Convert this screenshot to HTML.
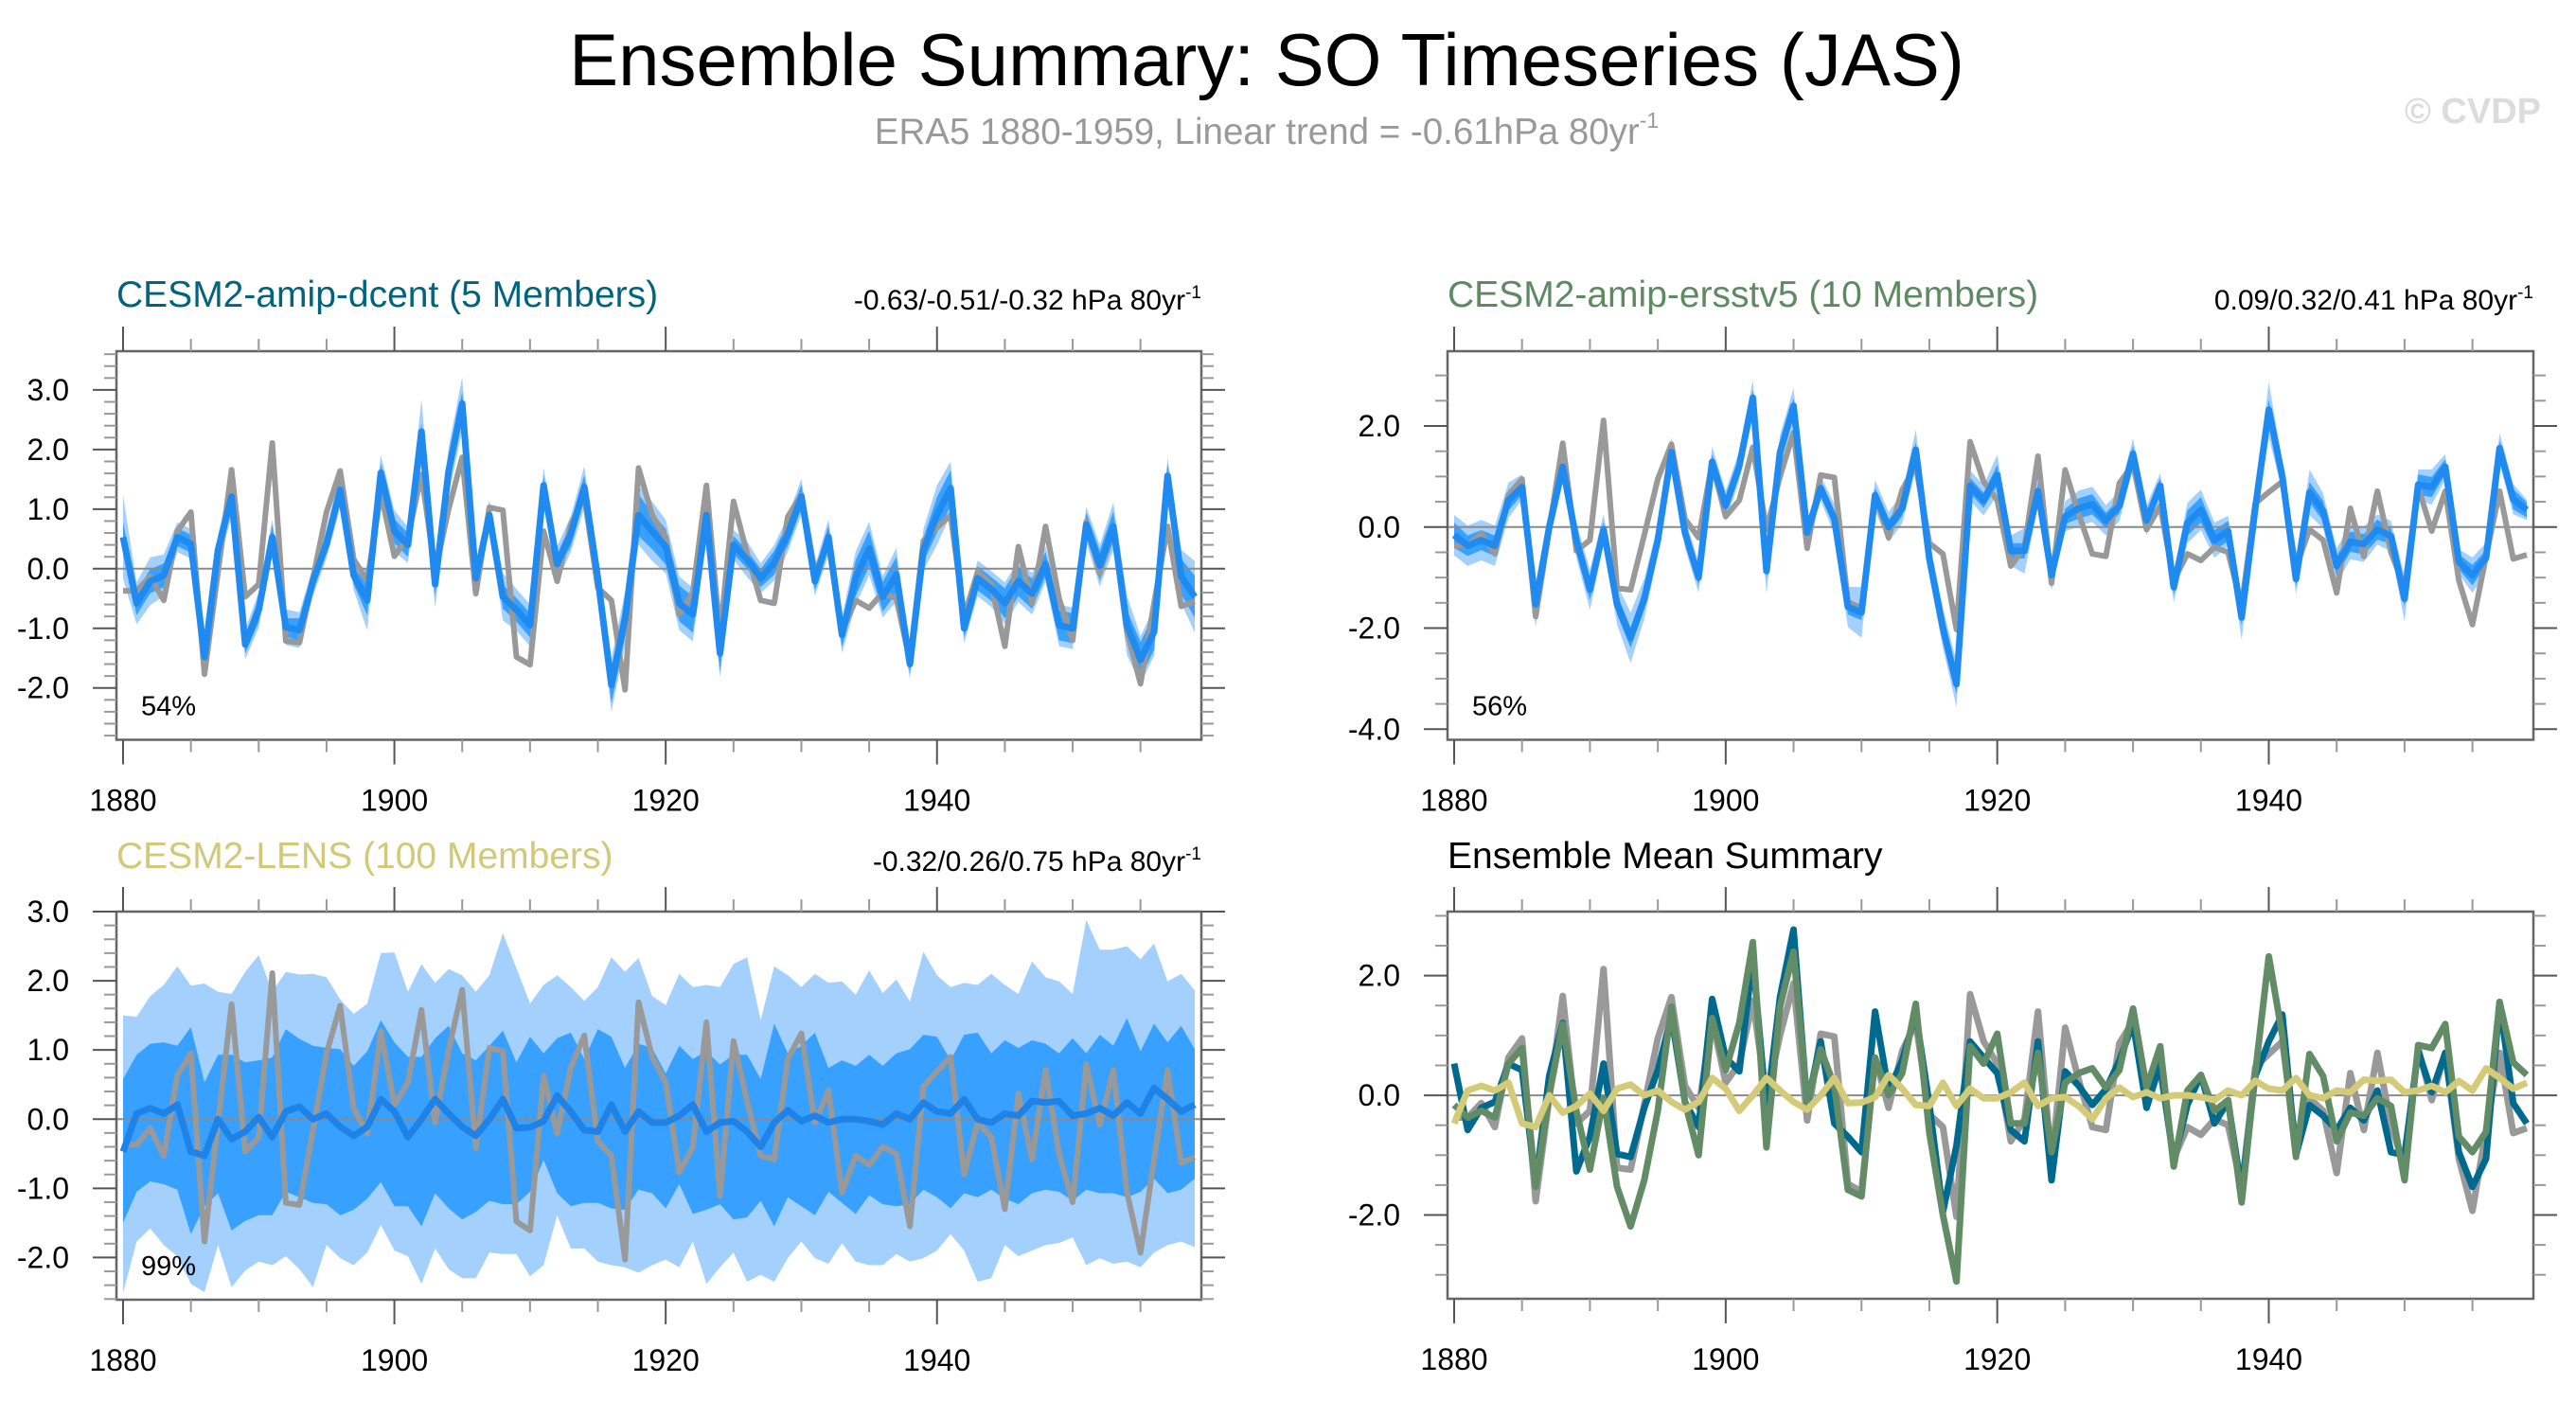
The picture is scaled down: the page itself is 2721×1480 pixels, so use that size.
<!DOCTYPE html>
<html><head><meta charset="utf-8"><title>Ensemble Summary: SO Timeseries (JAS)</title>
<style>html,body{margin:0;padding:0;background:#fff}svg{display:block;font-family:"Liberation Sans",Arial,sans-serif}</style>
</head><body>
<svg id="chart" width="2721" height="1480" viewBox="0 0 2721 1480" xmlns="http://www.w3.org/2000/svg">
<text x="1338" y="90" font-size="78" text-anchor="middle" fill="#000">Ensemble Summary: SO Timeseries (JAS)</text>
<text x="1338" y="152" font-size="38.5" text-anchor="middle" fill="#999">ERA5 1880-1959, Linear trend = -0.61hPa 80yr<tspan font-size="23" dy="-17">-1</tspan></text>
<text x="2684" y="130" font-size="38" font-weight="bold" text-anchor="end" fill="#dcdcdc">© CVDP</text>
</svg>
<script>
const years = [];
for (let y = 1880; y <= 1959; y++) years.push(y);
const era5 = [-0.37,-0.37,-0.13,-0.53,0.63,0.95,-1.77,-0.05,1.66,-0.47,
-0.26,2.11,-1.21,-1.24,-0.16,0.95,1.64,0.16,-0.21,1.27,
0.21,0.53,1.58,-0.05,1.0,1.87,-0.42,1.03,0.98,-1.48,
-1.61,0.63,-0.21,0.74,1.21,-0.32,-0.53,-2.03,1.69,0.90,
0.53,-0.77,-0.4,1.40,-1.11,1.13,0.26,-0.53,-0.58,0.87,
1.24,-0.05,0.42,-1.06,-0.53,-0.66,-0.40,-0.50,-1.55,0.47,
0.69,0.90,-0.8,-0.05,-0.26,-1.3,0.37,-0.58,0.71,-0.5,
-1.2,0.79,-0.08,0.71,-1.06,-1.93,-0.58,0.71,-0.63,-0.55];
const dcentMean = [0.53,-0.58,-0.21,-0.11,0.53,0.42,-1.48,0.32,1.21,-1.27,
-0.69,0.53,-0.98,-1.03,-0.21,0.42,1.32,-0.11,-0.53,1.61,
0.63,0.40,2.3,-0.26,1.64,2.77,-0.16,0.9,-0.47,-0.69,
-0.95,1.40,0.08,0.58,1.37,-0.16,-1.95,-0.84,0.9,0.63,
0.37,-0.58,-0.77,0.9,-1.42,0.4,0.16,-0.16,0.1,0.58,
1.21,-0.21,0.53,-1.11,-0.16,0.34,-0.47,-0.1,-1.6,0.32,
0.9,1.35,-1.0,-0.16,-0.34,-0.58,-0.21,-0.42,0.08,-0.95,
-1.0,0.74,0.05,0.71,-0.95,-1.53,-1.06,1.56,-0.13,-0.47];
const dcentDarkHW = [0.25,0.2,0.2,0.2,0.15,0.15,0.15,0.15,0.2,0.15,
0.2,0.2,0.15,0.2,0.15,0.15,0.2,0.15,0.25,0.15,
0.2,0.2,0.15,0.2,0.2,0.2,0.15,0.15,0.2,0.2,
0.2,0.15,0.15,0.2,0.2,0.15,0.3,0.3,0.35,0.3,
0.3,0.3,0.3,0.3,0.3,0.15,0.15,0.15,0.2,0.2,
0.2,0.15,0.2,0.2,0.3,0.3,0.25,0.3,0.15,0.2,
0.3,0.3,0.15,0.2,0.2,0.25,0.25,0.25,0.2,0.25,
0.25,0.2,0.25,0.25,0.25,0.3,0.3,0.2,0.3,0.35];
const dcentLightHW = [0.7,0.35,0.4,0.35,0.25,0.25,0.3,0.25,0.35,0.25,
0.3,0.3,0.3,0.3,0.25,0.25,0.3,0.25,0.5,0.3,
0.35,0.3,0.55,0.4,0.4,0.45,0.25,0.25,0.4,0.35,
0.35,0.3,0.3,0.3,0.35,0.25,0.45,0.45,0.5,0.5,
0.45,0.45,0.45,0.45,0.4,0.25,0.3,0.25,0.3,0.3,
0.3,0.25,0.3,0.3,0.45,0.45,0.35,0.45,0.25,0.35,
0.5,0.45,0.25,0.3,0.3,0.35,0.35,0.35,0.3,0.35,
0.35,0.3,0.35,0.4,0.5,0.4,0.4,0.3,0.45,0.6];
const ersstMean = [-0.16,-0.37,-0.26,-0.37,0.53,0.79,-1.53,0,1.19,-0.26,
-1.24,-0.05,-1.53,-2.19,-1.42,-0.26,1.48,-0.11,-1.0,1.29,
0.42,1.21,2.56,-0.87,1.48,2.40,-0.11,0.77,0.16,-1.58,
-1.69,0.63,0,0.37,1.53,-0.63,-2.0,-3.11,0.82,0.53,
1.03,-0.47,-0.47,0.71,-0.95,0.21,0.37,0.45,0.13,0.42,
1.45,0.13,0.82,-1.19,0.08,0.34,-0.26,-0.08,-1.79,0.37,
2.32,1.0,-1.03,0.69,0.32,-0.77,-0.29,-0.34,-0.05,-0.18,
-1.42,0.84,0.79,1.19,-0.69,-0.95,-0.61,1.56,0.55,0.34];
const ersstDarkHW = [0.25,0.2,0.2,0.2,0.2,0.15,0.15,0.15,0.15,0.2,
0.2,0.15,0.2,0.2,0.2,0.15,0.15,0.15,0.15,0.15,
0.15,0.15,0.15,0.15,0.15,0.15,0.15,0.15,0.15,0.15,
0.15,0.15,0.15,0.15,0.15,0.2,0.2,0.2,0.15,0.15,
0.2,0.15,0.15,0.15,0.15,0.15,0.2,0.2,0.15,0.15,
0.15,0.15,0.15,0.15,0.25,0.25,0.2,0.2,0.15,0.15,
0.2,0.15,0.15,0.2,0.2,0.2,0.2,0.2,0.2,0.15,
0.15,0.2,0.2,0.15,0.15,0.2,0.15,0.15,0.2,0.15];
const ersstLightHW = [0.4,0.4,0.4,0.4,0.35,0.25,0.45,0.3,0.3,0.35,
0.4,0.3,0.4,0.5,0.4,0.3,0.3,0.3,0.3,0.3,
0.3,0.3,0.35,0.45,0.35,0.35,0.25,0.25,0.3,0.4,
0.5,0.3,0.3,0.3,0.4,0.35,0.4,0.45,0.3,0.3,
0.4,0.3,0.45,0.3,0.3,0.3,0.35,0.35,0.3,0.3,
0.3,0.3,0.25,0.3,0.4,0.4,0.35,0.3,0.45,0.3,
0.55,0.3,0.3,0.45,0.35,0.35,0.35,0.35,0.3,0.3,
0.45,0.3,0.35,0.25,0.25,0.35,0.3,0.3,0.3,0.2];
const lensMean = [-0.47,0.08,0.16,0.08,0.21,-0.47,-0.53,0,-0.29,-0.18,
0.03,-0.26,0.11,0.18,0,0.08,-0.11,-0.24,-0.11,0.29,
0.11,-0.26,0,0.29,0.08,-0.11,-0.24,0,0.29,-0.13,
-0.12,-0.03,0.34,0.11,-0.16,-0.18,0.21,-0.18,0.11,-0.05,
-0.05,0.05,0.21,-0.18,-0.05,-0.03,-0.18,-0.40,-0.05,0.13,
-0.03,0.05,-0.05,0,0,-0.03,-0.08,0.08,0,0.24,
0.11,0.08,0.29,0,-0.05,0.08,0.05,0.26,0.24,0.26,
0.05,0.08,0.16,0.05,0.24,0.08,0.45,0.29,0.11,0.21];
const lensLightHi = [1.5,1.48,1.78,1.94,2.21,1.93,1.96,1.84,1.81,2.13,
2.37,1.84,2.13,2.09,2.10,2.05,1.73,1.52,1.67,2.40,
2.41,1.84,2.24,1.97,2.17,2.08,1.84,2.08,2.69,2.18,
1.67,1.94,2.08,1.91,1.71,1.91,2.34,2.13,2.33,1.78,
1.65,2.10,1.91,1.94,1.91,2.24,2.34,1.43,2.21,2.08,
1.91,2.10,1.97,1.99,1.80,2.15,1.82,2.02,1.70,2.42,
2.08,1.91,1.97,1.94,2.10,1.94,1.81,2.28,2.05,1.99,
1.81,2.88,2.45,2.45,2.50,2.31,2.54,1.99,2.10,1.86];
const lensLightLo = [-2.51,-1.77,-1.58,-1.82,-1.98,-2.38,-2.50,-1.82,-2.43,-2.19,
-2.06,-2.11,-1.98,-2.17,-2.43,-1.82,-2.01,-2.11,-1.93,-1.53,
-1.90,-1.98,-2.38,-1.87,-2.17,-2.30,-2.30,-1.93,-1.95,-1.95,
-2.27,-2.11,-1.39,-1.87,-1.87,-2.06,-2.11,-2.14,-2.22,-2.11,
-2.03,-2.14,-1.77,-2.38,-2.14,-1.93,-2.35,-2.25,-2.35,-2.01,
-1.77,-2.01,-2.09,-1.79,-2.06,-2.11,-2.11,-1.95,-2.06,-2.01,
-1.90,-1.66,-1.90,-2.35,-2.30,-1.82,-1.98,-1.90,-1.82,-1.79,
-1.71,-2.11,-2.01,-2.09,-2.06,-2.14,-1.93,-1.82,-1.77,-1.85];
const lensDarkHi = [0.58,0.93,1.09,1.11,1.06,1.33,0.53,0.93,0.93,0.82,
0.85,0.89,1.30,1.16,1.06,1.03,1.01,0.77,0.98,1.43,
1.11,0.90,0.90,1.17,1.35,0.95,0.85,1.06,1.28,0.82,
1.19,0.95,1.17,1.25,0.87,1.30,1.19,0.74,1.09,1.03,
0.66,1.06,0.87,0.98,0.79,0.93,0.93,0.58,1.38,0.95,
1.06,1.25,0.74,0.85,0.77,0.93,0.77,0.95,1.01,1.22,
1.19,0.85,1.22,1.25,0.95,1.14,1.03,1.14,1.09,0.95,
1.17,0.95,1.22,1.06,1.46,0.98,1.38,1.11,1.35,1.01];
const lensDarkLo = [-1.50,-1.05,-0.90,-0.94,-1.02,-1.66,-1.26,-1.07,-1.61,-1.47,
-1.39,-1.39,-1.05,-1.13,-1.21,-1.23,-1.39,-1.31,-1.15,-0.91,
-1.26,-1.26,-1.55,-1.07,-1.29,-1.45,-1.34,-1.18,-1.23,-1.23,
-1.05,-0.59,-1.07,-1.26,-1.21,-1.21,-1.29,-1.31,-1.02,-1.07,
-1.29,-0.94,-1.37,-1.31,-1.23,-1.45,-1.42,-1.18,-1.55,-1.13,
-1.26,-1.39,-1.05,-1.21,-1.37,-1.10,-1.23,-1.26,-1.23,-1.02,
-1.13,-1.29,-1.07,-1.13,-1.02,-1.15,-1.23,-1.07,-1.02,-1.05,
-1.18,-1.02,-1.07,-1.07,-1.13,-1.05,-0.86,-1.07,-1.02,-0.86];
const xTickLabels = [1880, 1900, 1920, 1940];

const NS = 'http://www.w3.org/2000/svg';
const svg = document.getElementById('chart');
function mk(tag, attrs, parent) {
  const e = document.createElementNS(NS, tag);
  for (const k in attrs) e.setAttribute(k, attrs[k]);
  (parent || svg).appendChild(e);
  return e;
}
const LIGHT = '#a3d0fd', DARK = '#38a0ff', LINE = '#1f8af0', GRAY = '#999999';

function panel(cfg) {
  const g = mk('g', {});
  
  
  const L = cfg.x0, R = cfg.x1, T = cfg.y0, B = cfg.y1;
  const xs = yr => L + 7 + (yr - 1880) * (R - L - 14) / 79;
  const ys = v => T + (cfg.ymax - v) * (B - T) / (cfg.ymax - cfg.ymin);
  const cid = 'clip-' + cfg.name;
  const cp = mk('clipPath', {id: cid}, g);
  mk('rect', {x: L, y: T, width: R - L, height: B - T}, cp);
  const plot = mk('g', {'clip-path': 'url(#' + cid + ')'}, g);
  function band(lo, hi, color, nm) {
    let pts = [];
    for (let i = 0; i < years.length; i++) pts.push(xs(years[i]).toFixed(1) + ',' + ys(hi[i]).toFixed(1));
    for (let i = years.length - 1; i >= 0; i--) pts.push(xs(years[i]).toFixed(1) + ',' + ys(lo[i]).toFixed(1));
    const p = mk('polygon', {points: pts.join(' '), fill: color, stroke: 'none'}, plot);
    
    
  }
  function line(vals, color, w, nm) {
    const pts = vals.map((v, i) => xs(years[i]).toFixed(1) + ',' + ys(v).toFixed(1)).join(' ');
    const p = mk('polyline', {points: pts, fill: 'none', stroke: color, 'stroke-width': w, 'stroke-linejoin': 'round'}, plot);
    
    
  }
  (cfg.bands || []).forEach(b => band(b[0], b[1], b[2], b[3]));
  const z = mk('line', {x1: L, x2: R, y1: ys(0), y2: ys(0), stroke: '#8a8a8a', 'stroke-width': 2}, plot);
  
  
  (cfg.lines || []).forEach(l => line(l[0], l[1], l[2], l[3]));
  const fr = mk('rect', {x: L, y: T, width: R - L, height: B - T, fill: 'none', stroke: '#666', 'stroke-width': 2.5}, g);
  
  
  for (let yr = 1880; yr <= 1959; yr += 5) {
    const major = (yr % 20 === 0);
    const len = major ? 26 : 13, x = xs(yr);
    mk('line', {x1: x, x2: x, y1: T, y2: T - len, stroke: major ? '#555' : '#999', 'stroke-width': 2}, g);
    mk('line', {x1: x, x2: x, y1: B, y2: B + len, stroke: major ? '#555' : '#999', 'stroke-width': 2}, g);
  }
  xTickLabels.forEach(yr => {
    const t = mk('text', {x: xs(yr), y: B + 75, 'font-size': 32, 'text-anchor': 'middle', fill: '#000'}, g);
    t.textContent = yr;
    
    
  });
  const s = cfg.minor;
  for (let k = Math.ceil(cfg.ymin / s - 1e-6); k <= Math.floor(cfg.ymax / s + 1e-6); k++) {
    const v = k * s, y = ys(v);
    const major = cfg.labels.some(l => Math.abs(l - v) < 1e-6);
    const len = major ? 25 : 13;
    mk('line', {x1: L, x2: L - len, y1: y, y2: y, stroke: major ? '#555' : '#999', 'stroke-width': 2}, g);
    mk('line', {x1: R, x2: R + len, y1: y, y2: y, stroke: major ? '#555' : '#999', 'stroke-width': 2}, g);
  }
  cfg.labels.forEach(v => {
    const t = mk('text', {x: L - 50, y: ys(v) + 11, 'font-size': 32, 'text-anchor': 'end', fill: '#000'}, g);
    t.textContent = v.toFixed(1);
    
    
  });
  const tt = mk('text', {x: L, y: cfg.titleY, 'font-size': 39, fill: cfg.titleColor}, g);
  tt.textContent = cfg.title;
  
  
  if (cfg.stats) {
    const st = mk('text', {x: R, y: cfg.titleY + 3, 'font-size': 30, 'text-anchor': 'end', fill: '#000'}, g);
    st.innerHTML = cfg.stats + ' hPa 80yr<tspan font-size="19" dy="-12">-1</tspan>';
    
    
  }
  if (cfg.pct) {
    const pt = mk('text', {x: L + 26, y: B - 26, 'font-size': 29, fill: '#000'}, g);
    pt.textContent = cfg.pct;
    
    
  }
}

const dLo = [], dHi = [], dlLo = [], dlHi = [], eLo = [], eHi = [], elLo = [], elHi = [];
for (let i = 0; i < years.length; i++) {
  dLo.push(dcentMean[i] - dcentDarkHW[i]); dHi.push(dcentMean[i] + dcentDarkHW[i]);
  dlLo.push(dcentMean[i] - dcentLightHW[i]); dlHi.push(dcentMean[i] + dcentLightHW[i]);
  eLo.push(ersstMean[i] - ersstDarkHW[i]); eHi.push(ersstMean[i] + ersstDarkHW[i]);
  elLo.push(ersstMean[i] - ersstLightHW[i]); elHi.push(ersstMean[i] + ersstLightHW[i]);
}

panel({name: 'panel-dcent', x0: 123, x1: 1269, y0: 371, y1: 781.5, ymin: -2.87, ymax: 3.65,
  labels: [3, 2, 1, 0, -1, -2], minor: 0.2, titleY: 324, title: 'CESM2-amip-dcent (5 Members)', titleColor: '#00647f',
  stats: '-0.63/-0.51/-0.32', pct: '54%',
  bands: [[dlLo, dlHi, LIGHT, 'band-minmax'], [dLo, dHi, DARK, 'band-spread']],
  lines: [[era5, GRAY, 6, 'era5-line'], [dcentMean, LINE, 7, 'ensemble-mean-line']]});
panel({name: 'panel-ersstv5', x0: 1529, x1: 2676, y0: 371, y1: 781.5, ymin: -4.21, ymax: 3.48,
  labels: [2, 0, -2, -4], minor: 0.5, titleY: 324, title: 'CESM2-amip-ersstv5 (10 Members)', titleColor: '#5e8a62',
  stats: '0.09/0.32/0.41', pct: '56%',
  bands: [[elLo, elHi, LIGHT, 'band-minmax'], [eLo, eHi, DARK, 'band-spread']],
  lines: [[era5, GRAY, 6, 'era5-line'], [ersstMean, LINE, 7, 'ensemble-mean-line']]});
panel({name: 'panel-lens', x0: 123, x1: 1269, y0: 963, y1: 1373, ymin: -2.61, ymax: 3.0,
  labels: [3, 2, 1, 0, -1, -2], minor: 0.2, titleY: 917, title: 'CESM2-LENS (100 Members)', titleColor: '#d2c878',
  stats: '-0.32/0.26/0.75', pct: '99%',
  bands: [[lensLightLo, lensLightHi, LIGHT, 'band-minmax'], [lensDarkLo, lensDarkHi, DARK, 'band-spread']],
  lines: [[era5, GRAY, 6, 'era5-line'], [lensMean, '#1e82e6', 7, 'ensemble-mean-line']]});
panel({name: 'panel-mean-summary', x0: 1529, x1: 2676, y0: 963, y1: 1372, ymin: -3.40, ymax: 3.07,
  labels: [2, 0, -2], minor: 0.5, titleY: 917, title: 'Ensemble Mean Summary', titleColor: '#000',
  lines: [[era5, GRAY, 7, 'era5-line'], [dcentMean, '#006a8e', 7, 'dcent-mean-line'], [ersstMean, '#628c66', 7, 'ersstv5-mean-line'], [lensMean, '#d4cb78', 7, 'lens-mean-line']]});
</script>
</body></html>
